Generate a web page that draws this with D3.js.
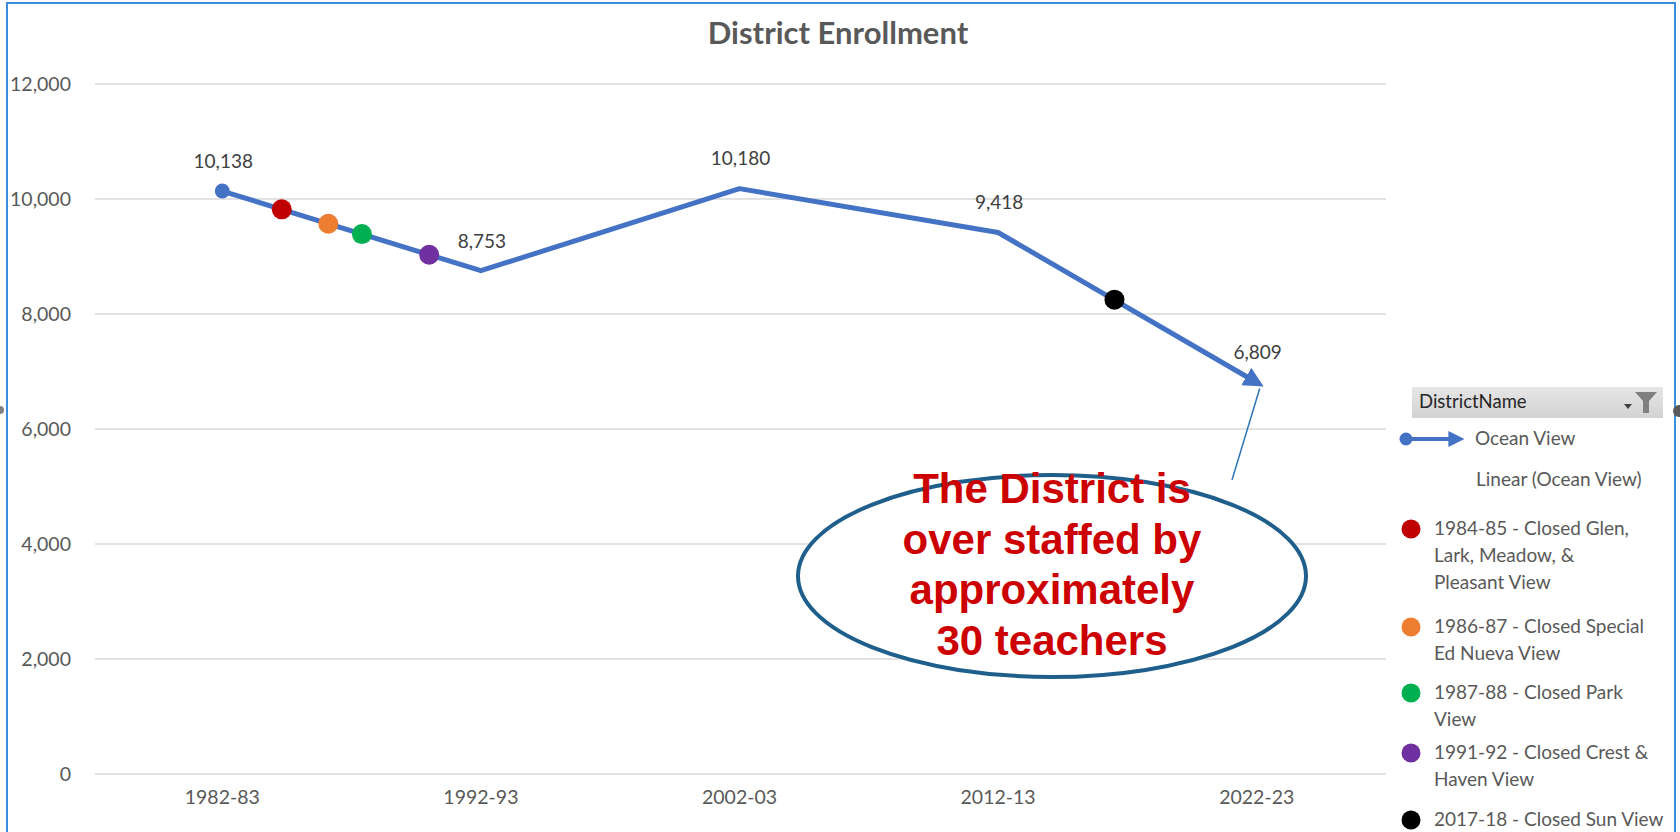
<!DOCTYPE html>
<html>
<head>
<meta charset="utf-8">
<script src="https://cdn.jsdelivr.net/npm/d3@7"></script>
<style>
  body { margin: 0; background: #fff; }
  svg { display: block; font-family: Lato, 'Open Sans', sans-serif; }
  .tick text { fill: #595959; font-size: 19.5px; }
  .data-label { fill: #404040; font-size: 19px; text-anchor: middle; }
  .legend-text { fill: #595959; font-size: 19px; }
</style>
</head>
<body>
<svg id="chart"></svg>
<script>
var width = 1680;
var height = 832;

// data
var categories = ['1982-83', '1992-93', '2002-03', '2012-13', '2022-23'];
var enrollment = [10138, 8753, 10180, 9418, 6809];
var yTicks = [0, 2000, 4000, 6000, 8000, 10000, 12000];
var closureNames = [
  ['1984-85 - Closed Glen,', 'Lark, Meadow, &', 'Pleasant View'],
  ['1986-87 - Closed Special', 'Ed Nueva View'],
  ['1987-88 - Closed Park', 'View'],
  ['1991-92 - Closed Crest &', 'Haven View'],
  ['2017-18 - Closed Sun View']
];
var closureColors = ['#C00000', '#ED7D31', '#00B050', '#7030A0', '#000000'];
// position along the category axis (fractional index) and enrollment
var closureIndex = [0.23, 0.41, 0.54, 0.80, 3.45];
var closureValues = [9820, 9570, 9390, 9030, 8250];
var calloutLines = ['The District is', 'over staffed by', 'approximately', '30 teachers'];

var margin = { top: 84, bottom: 58, left: 93, right: 294 };
var lineColor = '#4472C4';

var svg = d3.select('#chart').attr('width', width).attr('height', height);

// outer frame
svg.append('rect')
  .attr('x', 7).attr('y', 3)
  .attr('width', 1668).attr('height', 850)
  .attr('fill', 'none')
  .attr('stroke', '#3C8DDB')
  .attr('stroke-width', 2);

var x = d3.scaleBand()
  .domain(categories)
  .range([margin.left, width - margin.right]);
var xIdx = d3.scaleLinear()
  .domain([0, categories.length - 1])
  .range([x(categories[0]) + x.bandwidth() / 2, x(categories[categories.length - 1]) + x.bandwidth() / 2]);
var y = d3.scaleLinear()
  .domain([0, 12000])
  .range([height - margin.bottom, margin.top]);

// title
svg.append('text')
  .attr('x', 838).attr('y', 36)
  .style('text-anchor', 'middle')
  .style('dominant-baseline', 'middle')
  .style('font-size', '31px')
  .style('font-weight', 'bold')
  .style('fill', '#595959')
  .text('District Enrollment');

// gridlines
svg.append('g').selectAll('line')
  .data(yTicks)
  .enter()
  .append('line')
  .attr('x1', margin.left + 2)
  .attr('x2', width - margin.right)
  .attr('y1', function(d) { return y(d); })
  .attr('y2', function(d) { return y(d); })
  .attr('stroke', '#D9D9D9')
  .attr('stroke-width', 1.5);

var yAxis = svg.append('g')
  .attr('transform', 'translate(' + margin.left + ',0)')
  .call(d3.axisLeft(y).tickValues(yTicks).tickSize(0).tickPadding(22).tickFormat(d3.format(',')));
yAxis.select('.domain').remove();
yAxis.selectAll('text').style('font-family', 'Lato, sans-serif');

var xAxis = svg.append('g')
  .attr('transform', 'translate(0,' + y(0) + ')')
  .call(d3.axisBottom(x).tickSize(0).tickPadding(16));
xAxis.select('.domain').remove();
xAxis.selectAll('text').style('font-family', 'Lato, sans-serif');

// arrow marker
var defs = svg.append('defs');
defs.append('marker')
  .attr('id', 'arrow')
  .attr('viewBox', '0 0 10 10')
  .attr('refX', 6).attr('refY', 5)
  .attr('markerWidth', 4).attr('markerHeight', 4)
  .attr('orient', 'auto')
  .append('path')
  .attr('d', 'M0,0 L10,5 L0,10 Z')
  .attr('fill', lineColor);

var line = d3.line()
  .x(function(d, i) { return xIdx(i); })
  .y(function(d) { return y(d); });

svg.append('path')
  .datum(enrollment)
  .attr('d', line)
  .attr('fill', 'none')
  .attr('stroke', lineColor)
  .attr('stroke-width', 5)
  .attr('stroke-linejoin', 'round')
  .attr('marker-end', 'url(#arrow)');

svg.append('circle')
  .attr('cx', xIdx(0)).attr('cy', y(enrollment[0]))
  .attr('r', 7.5)
  .attr('fill', lineColor);

// closure markers
svg.append('g').selectAll('circle')
  .data(closureValues)
  .enter()
  .append('circle')
  .attr('cx', function(d, i) { return xIdx(closureIndex[i]); })
  .attr('cy', function(d) { return y(d); })
  .attr('r', 10)
  .attr('fill', function(d, i) { return closureColors[i]; });

// data labels
svg.append('g').selectAll('text')
  .data(enrollment)
  .enter()
  .append('text')
  .classed('data-label', true)
  .attr('x', function(d, i) { return xIdx(i) + 1; })
  .attr('y', function(d) { return y(d) - 28; })
  .style('dominant-baseline', 'middle')
  .text(function(d) { return d3.format(',')(d); });

// callout
var cx = 1052, cy = 576;
svg.append('line')
  .attr('x1', 1232).attr('y1', 480)
  .attr('x2', xIdx(4) + 3).attr('y2', y(enrollment[4]) + 6)
  .attr('stroke', '#2E75B6')
  .attr('stroke-width', 1.5);
svg.append('ellipse')
  .attr('cx', cx).attr('cy', cy)
  .attr('rx', 254).attr('ry', 101)
  .attr('fill', '#fff')
  .attr('stroke', '#1F5F8B')
  .attr('stroke-width', 4);
svg.append('g').selectAll('text')
  .data(calloutLines)
  .enter()
  .append('text')
  .attr('x', cx)
  .attr('y', function(d, i) { return 492 + i * 50.5; })
  .style('text-anchor', 'middle')
  .style('dominant-baseline', 'middle')
  .style('font-family', "'Liberation Sans', Arial, sans-serif")
  .style('font-weight', 'bold')
  .style('font-size', '42px')
  .style('fill', '#CC0000')
  .text(function(d) { return d; });

// legend
var legend = svg.append('g');
var hdrGrad = defs.append('linearGradient')
  .attr('id', 'hdr').attr('x1', 0).attr('x2', 0).attr('y1', 0).attr('y2', 1);
hdrGrad.append('stop').attr('offset', 0).attr('stop-color', '#E6E6E6');
hdrGrad.append('stop').attr('offset', 1).attr('stop-color', '#D2D2D2');
legend.append('rect')
  .attr('x', 1412).attr('y', 387)
  .attr('width', 251).attr('height', 31)
  .attr('fill', 'url(#hdr)');
legend.append('text')
  .attr('x', 1419).attr('y', 403)
  .style('dominant-baseline', 'middle')
  .style('font-size', '18.5px')
  .style('fill', '#262626')
  .text('DistrictName');
// dropdown + funnel
legend.append('path')
  .attr('d', 'M1624,404 L1632,404 L1628,409 Z')
  .attr('fill', '#404040');
legend.append('path')
  .attr('d', 'M1635,392 L1657,392 L1649,401 L1649,413 L1643,413 L1643,401 Z')
  .attr('fill', '#7F7F7F');
// resize handles
svg.append('circle').attr('cx', 1679).attr('cy', 411).attr('r', 6).attr('fill', '#595959');
svg.append('circle').attr('cx', 0).attr('cy', 410).attr('r', 4).attr('fill', '#7F7F7F');

// Ocean View entry
legend.append('line')
  .attr('x1', 1406).attr('x2', 1458)
  .attr('y1', 439).attr('y2', 439)
  .attr('stroke', lineColor).attr('stroke-width', 4)
  .attr('marker-end', 'url(#arrow)');
legend.append('circle').attr('cx', 1406).attr('cy', 439).attr('r', 6.5).attr('fill', lineColor);
legend.append('text').classed('legend-text', true)
  .attr('x', 1475).attr('y', 440)
  .style('dominant-baseline', 'middle')
  .text('Ocean View');
legend.append('text').classed('legend-text', true)
  .attr('x', 1476).attr('y', 481)
  .style('dominant-baseline', 'middle')
  .text('Linear (Ocean View)');

var itemY = [529, 627, 693, 753, 820];
var items = legend.selectAll('.closure-item')
  .data(closureNames)
  .enter()
  .append('g')
  .classed('closure-item', true);
items.append('circle')
  .attr('cx', 1411)
  .attr('cy', function(d, i) { return itemY[i]; })
  .attr('r', 9.5)
  .attr('fill', function(d, i) { return closureColors[i]; });
items.each(function(d, i) {
  d3.select(this).selectAll('text')
    .data(d)
    .enter()
    .append('text')
    .classed('legend-text', true)
    .attr('x', 1434)
    .attr('y', function(t, j) { return itemY[i] + 1 + j * 27; })
    .style('dominant-baseline', 'middle')
    .text(function(t) { return t; });
});
</script>
</body>
</html>
